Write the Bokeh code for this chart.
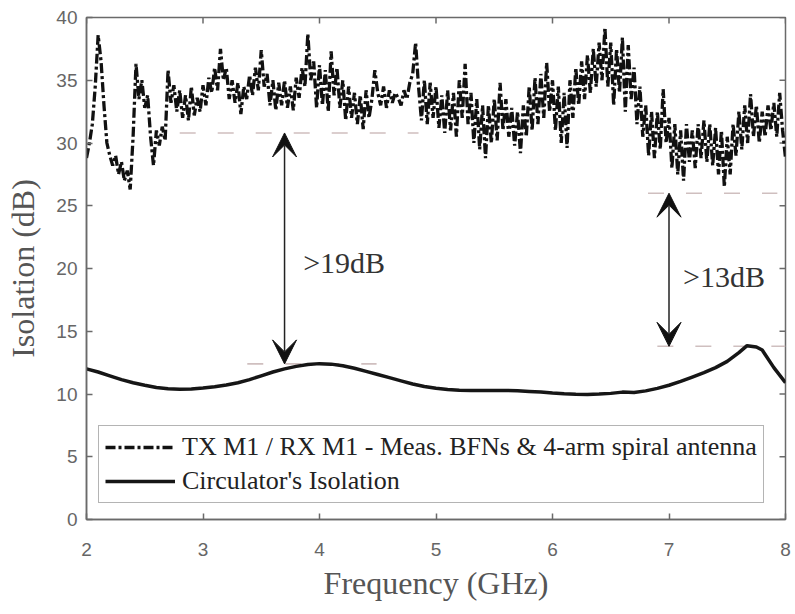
import numpy as np
from bokeh.plotting import figure
from bokeh.models import Range1d, FixedTicker, Arrow, VeeHead, Label, ColumnDataSource
from bokeh.embed import file_html
from bokeh.resources import INLINE

# ---------------- data ----------------
meas_start, meas_stop = 2.0, 8.0
meas_db = [
    28.8, 30.0, 31.5, 34.5,  38.6, 36.5, 33.0, 30.0,  29.0, 28.2, 29.0, 27.5,
    28.5, 27.0, 27.8, 26.3,  30.5, 36.3, 33.5, 35.0,  32.8, 33.8, 30.5, 28.2,
    31.0, 29.8, 31.3, 30.2,  35.8, 33.2, 34.6, 32.5,  34.2, 32.0, 33.8, 31.8,
    34.5, 32.2, 33.6, 32.5,  34.6, 33.0, 35.2, 34.0,  36.0, 34.2, 37.5, 35.0,
    36.0, 33.5, 35.0, 33.2,  34.8, 32.3, 34.5, 33.5,  35.4, 33.8, 36.0, 34.2,
    37.4, 34.5, 35.5, 33.0,  35.0, 32.6, 34.8, 33.0,  35.0, 32.8, 34.5, 32.6,
    35.2, 33.6, 36.0, 34.5,  38.7, 35.0, 36.5, 32.8,  36.2, 33.0, 35.8, 32.5,
    37.3, 33.8, 36.0, 32.8,  35.0, 31.8, 34.5, 32.0,  34.0, 31.5, 33.8, 31.1,
    34.2, 32.0, 33.5, 35.8,  34.0, 33.0, 34.5, 32.8,  34.2, 33.2, 34.0, 33.6,
    33.0, 34.2, 33.5, 34.8,  35.5, 38.0, 34.5, 31.8,  35.0, 31.5, 34.8, 32.0,
    34.5, 31.2, 33.8, 30.8,  34.2, 31.0, 34.0, 30.5,  35.0, 32.0, 36.3, 31.5,
    34.0, 30.0, 33.5, 29.5,  33.0, 28.8, 33.0, 30.0,  33.5, 30.2, 34.8, 31.0,
    33.5, 30.5, 32.8, 29.8,  32.5, 29.2, 33.0, 30.5,  34.5, 31.0, 35.2, 31.5,
    35.5, 32.0, 36.4, 32.5,  35.0, 31.0, 34.5, 30.0,  34.0, 29.6, 35.0, 32.0,
    36.0, 33.0, 36.5, 33.5,  37.0, 34.0, 37.5, 34.5,  38.0, 35.0, 39.2, 34.5,
    38.0, 33.0, 37.5, 34.0,  38.4, 32.5, 37.8, 33.5,  36.0, 31.5, 34.5, 30.5,
    33.0, 29.0, 32.5, 28.8,  32.5, 29.5, 34.3, 30.0,  32.0, 28.0, 31.5, 27.5,
    31.0, 27.0, 31.5, 28.5,  31.0, 28.0, 31.5, 28.8,  31.8, 28.5, 31.5, 28.2,
    31.2, 27.5, 31.0, 26.5,  30.5, 27.5, 31.5, 29.0,  32.5, 29.5, 33.0, 30.0,
    33.9, 30.5, 33.0, 30.0,  32.5, 30.5, 33.0, 31.0,  33.2, 30.5, 34.0, 31.0,
    28.8,
]
meas_freq = np.linspace(meas_start, meas_stop, len(meas_db))

circ_freq = [2.0, 2.1, 2.2, 2.3, 2.4, 2.5, 2.6, 2.7, 2.8, 2.9,
             3.0, 3.1, 3.2, 3.3, 3.4, 3.5, 3.6, 3.7, 3.8, 3.9,
             4.0, 4.1, 4.2, 4.3, 4.4, 4.5, 4.6, 4.7, 4.8, 4.9,
             5.0, 5.1, 5.2, 5.3, 5.4, 5.5, 5.6, 5.7, 5.8, 5.9,
             6.0, 6.1, 6.2, 6.3, 6.4, 6.5, 6.6, 6.7, 6.8, 6.9,
             7.0, 7.1, 7.2, 7.3, 7.4, 7.5, 7.6, 7.67, 7.75, 7.8, 7.9, 8.0]
circ_db = [12.0, 11.75, 11.45, 11.15, 10.9, 10.7, 10.52, 10.42, 10.38, 10.4,
           10.48, 10.58, 10.72, 10.9, 11.15, 11.45, 11.75, 12.0, 12.2, 12.35,
           12.42, 12.38, 12.25, 12.05, 11.8, 11.55, 11.3, 11.05, 10.8, 10.6,
           10.45, 10.35, 10.3, 10.28, 10.27, 10.28, 10.28, 10.25, 10.2, 10.15,
           10.08, 10.02, 9.98, 9.96, 10.0, 10.05, 10.15, 10.12, 10.25, 10.45,
           10.7, 11.0, 11.35, 11.7, 12.1, 12.6, 13.3, 13.85, 13.75, 13.5, 12.1, 10.9]

ref_levels = [30.8, 12.4, 26.0, 13.8]
ref_x0 = [2.8, 3.38, 6.82, 6.9]
ref_x1 = [4.85, 4.49, 7.93, 8.0]

arrow_x = [3.7, 7.0]
arrow_top = [30.8, 26.0]
arrow_bottom = [12.4, 13.8]
margin_labels = [">19dB", ">13dB"]
margin_label_x = [3.86, 7.12]
margin_label_y = [20.5, 19.4]

x_ticks = [2, 3, 4, 5, 6, 7, 8]
y_ticks = [0, 5, 10, 15, 20, 25, 30, 35, 40]
x_min, x_max = 2, 8
y_min, y_max = 0, 40

legend_labels = ["TX M1 / RX M1 - Meas. BFNs & 4-arm spiral antenna",
                 "Circulator's Isolation"]

# ---------------- figure ----------------
GRAY = "#6a6a6a"
SERIF = "'Liberation Serif', 'Times New Roman', Times, serif"
SANS = "'Liberation Sans', Arial, Helvetica, sans-serif"

p = figure(width=795, height=614, output_backend="svg", toolbar_location=None,
           x_range=Range1d(x_min, x_max), y_range=Range1d(y_min, y_max),
           min_border_left=86, min_border_right=10, min_border_top=17, min_border_bottom=95,
           background_fill_color="white", border_fill_color="white")
p.xgrid.visible = False
p.ygrid.visible = False
p.outline_line_color = GRAY
p.outline_line_width = 1.5

for ax, ticks in ((p.xaxis[0], x_ticks), (p.yaxis[0], y_ticks)):
    ax.ticker = FixedTicker(ticks=ticks)
    ax.major_tick_in = 6
    ax.major_tick_out = 0
    ax.minor_tick_in = 0
    ax.minor_tick_out = 0
    ax.axis_line_color = GRAY
    ax.axis_line_width = 1.5
    ax.major_tick_line_color = GRAY
    ax.major_tick_line_width = 1.5
    ax.major_label_text_font = SANS
    ax.major_label_text_font_size = "19px"
    ax.major_label_text_color = "#666666"
    ax.axis_label_text_font = SERIF
    ax.axis_label_text_font_style = "normal"
    ax.axis_label_text_font_size = "32px"
    ax.axis_label_text_color = "#555555"

p.xaxis.axis_label = "Frequency (GHz)"
p.yaxis.axis_label = "Isolation (dB)"
p.xaxis.major_label_standoff = 23
p.xaxis.axis_label_standoff = 6
p.yaxis.major_label_standoff = 9
p.yaxis.axis_label_standoff = 12

# mirrored inward ticks on top and right edges (box style)
p.ray(x=x_ticks, y=[y_max] * len(x_ticks), length=6, length_units="screen",
      angle=-np.pi / 2, line_color=GRAY, line_width=1.5)
p.ray(x=[x_max] * len(y_ticks), y=y_ticks, length=6, length_units="screen",
      angle=np.pi, line_color=GRAY, line_width=1.5)

# reference dashed lines
p.segment(x0=ref_x0, y0=ref_levels, x1=ref_x1, y1=ref_levels,
          line_color="#cfbfbf", line_width=1.6, line_dash="16 22")

# arrows
arr_src = ColumnDataSource(dict(x=arrow_x, y0=arrow_top, y1=arrow_bottom))
p.add_layout(Arrow(x_start="x", y_start="y0", x_end="x", y_end="y1", source=arr_src,
                   line_color="#222222", line_width=1.5,
                   start=VeeHead(size=24, fill_color="#111111", line_color="#111111"),
                   end=VeeHead(size=24, fill_color="#111111", line_color="#111111")))

for t, lx, ly in zip(margin_labels, margin_label_x, margin_label_y):
    p.add_layout(Label(x=lx, y=ly, text=t, text_font=SERIF, text_font_size="30px",
                       text_color="#333333", text_baseline="alphabetic"))

# curves
p.line(meas_freq, meas_db, line_color="#111111", line_width=3.3, line_dash="10 3 3 3",
       legend_label=legend_labels[0])
p.line(circ_freq, circ_db, line_color="#161616", line_width=3.5,
       legend_label=legend_labels[1])

lg = p.legend[0]
lg.location = (12, 16)
lg.label_text_font = SERIF
lg.label_text_font_size = "26px"
lg.label_text_color = "#222222"
lg.label_height = 30
lg.glyph_height = 30
lg.glyph_width = 70
lg.label_standoff = 7
lg.spacing = 4
lg.padding = 6
lg.margin = 0
lg.border_line_color = GRAY
lg.border_line_width = 1.5
lg.background_fill_color = "white"
lg.background_fill_alpha = 1.0

open("out.html", "w").write(file_html(p, INLINE))
